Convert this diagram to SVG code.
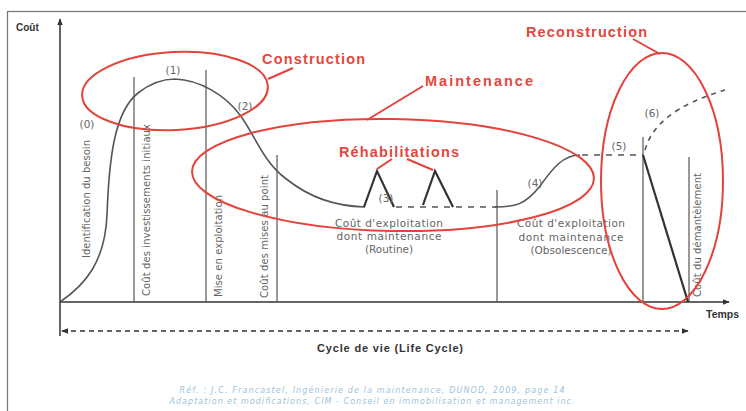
<svg xmlns="http://www.w3.org/2000/svg" width="746" height="411" viewBox="0 0 746 411">
<defs>
<style>
.ax{stroke:#333;stroke-width:1.5;fill:none}
.vl{stroke:#555;stroke-width:1.2;fill:none}
.cv{stroke:#555;stroke-width:1.6;fill:none}
.pk{stroke:#333;stroke-width:2.2;fill:none;stroke-linejoin:miter}
.ds{stroke:#555;stroke-width:1.6;fill:none;stroke-dasharray:6 6}
.red{stroke:#e4423a;stroke-width:2;fill:none}
.rt{font-family:"Liberation Sans",Arial,sans-serif;font-weight:bold;font-size:14.5px;fill:#e4473e}
.lb{font-family:"DejaVu Sans","Liberation Sans",sans-serif;font-size:10px;fill:#666}
.nm{font-family:"DejaVu Sans","Liberation Sans",sans-serif;font-size:10.5px;fill:#666;text-anchor:middle}
.bt{font-family:"Liberation Sans",Arial,sans-serif;font-weight:bold;fill:#333}
.ft{font-family:"DejaVu Sans","Liberation Sans",sans-serif;font-size:8px;fill:#9cc3de;font-style:italic;text-anchor:middle}
</style>
<marker id="ah" viewBox="0 0 10 10" refX="9" refY="5" markerWidth="7" markerHeight="7" orient="auto-start-reverse" markerUnits="userSpaceOnUse">
<path d="M0,1 L10,5 L0,9 z" fill="#333"/>
</marker>
</defs>
<rect width="746" height="411" fill="#fff"/>
<rect x="7.5" y="11.5" width="800" height="500" fill="none" stroke="#777" stroke-width="1.2"/>

<g id="axes">
<line class="ax" x1="60" y1="336" x2="60" y2="19" marker-end="url(#ah)"/>
<line class="ax" x1="60" y1="302" x2="729" y2="302" marker-end="url(#ah)"/>
<text class="bt" x="16" y="31" font-size="10">Coût</text>
<text class="bt" x="706" y="318" font-size="10.5">Temps</text>
</g>

<g id="lifecycle">
<line x1="62" y1="331" x2="688" y2="331" stroke="#333" stroke-width="1.3" stroke-dasharray="5 4" marker-start="url(#ah)" marker-end="url(#ah)"/>
<text class="bt" x="390" y="352" font-size="11" text-anchor="middle" textLength="146">Cycle de vie (Life Cycle)</text>
</g>

<g id="phase-lines">
<line class="vl" x1="134" y1="77" x2="134" y2="302"/>
<line class="vl" x1="206" y1="70" x2="206" y2="302"/>
<line class="vl" x1="277" y1="155" x2="277" y2="302"/>
<line class="vl" x1="497" y1="190" x2="497" y2="302"/>
<line class="vl" x1="643" y1="137" x2="643" y2="302"/>
<line class="vl" x1="689" y1="157" x2="689" y2="302"/>
</g>

<g id="phase-labels">
<text class="lb" transform="translate(90,258) rotate(-90)" textLength="118">Identification du besoin</text>
<text class="lb" transform="translate(150,296) rotate(-90)" textLength="172">Coût des investissements initiaux</text>
<text class="lb" transform="translate(222,297) rotate(-90)" textLength="102">Mise en exploitation</text>
<text class="lb" transform="translate(268,298) rotate(-90)" textLength="123">Coût des mises au point</text>
<text class="lb" transform="translate(701,297) rotate(-90)" textLength="124">Coût du démantèlement</text>
</g>

<g id="cost-curve">
<path class="cv" d="M60,302 C85,285 105,262 107,215 C109,160 114,112 138,93 C152,82 165,79 175,79 C200,80 225,95 240,115 C255,135 262,160 285,178 C310,198 335,206 365,207"/>
<path class="pk" d="M364,207 L377,171 L394,207"/>
<path class="pk" d="M423,205 L435,171 L453,207"/>
<line class="ds" x1="396" y1="207" x2="497" y2="207"/>
<path class="cv" d="M495,207 C515,207 525,205 540,186 C553,168 563,155 580,155"/>
<line class="ds" x1="582" y1="155" x2="643" y2="155"/>
<path class="pk" d="M643,155 L688,302"/>
<path d="M645,150 C652,125 675,105 725,90" fill="none" stroke="#555" stroke-width="1.6" stroke-dasharray="5 5"/>
</g>

<g id="point-labels">
<text class="nm" x="87" y="128">(0)</text>
<text class="nm" x="173" y="74">(1)</text>
<text class="nm" x="245" y="110">(2)</text>
<text class="nm" x="386" y="202">(3)</text>
<text class="nm" x="535" y="187">(4)</text>
<text class="nm" x="619" y="150">(5)</text>
<text class="nm" x="652" y="117">(6)</text>
</g>

<g id="routine">
<text class="nm" x="389" y="227" textLength="108">Coût d'exploitation</text>
<text class="nm" x="389" y="240" textLength="105">dont maintenance</text>
<text class="nm" x="389" y="253">(Routine)</text>
</g>
<g id="obsolescence">
<text class="nm" x="571" y="227" textLength="108">Coût d'exploitation</text>
<text class="nm" x="571" y="241" textLength="105">dont maintenance</text>
<text class="nm" x="571" y="254">(Obsolescence)</text>
</g>

<g id="construction">
<ellipse class="red" cx="175" cy="91" rx="93" ry="39" transform="rotate(-3 175 91)"/>
<line class="red" x1="268" y1="79" x2="293" y2="68"/>
<text class="rt" x="262" y="64" textLength="103">Construction</text>
</g>

<g id="maintenance">
<ellipse class="red" cx="393" cy="175" rx="201" ry="56" transform="rotate(1 393 175)"/>
<line class="red" x1="367" y1="120" x2="423" y2="86"/>
<text class="rt" x="425" y="86" textLength="108">Maintenance</text>
</g>

<g id="rehabilitations">
<line class="red" x1="392" y1="159" x2="377" y2="169"/>
<line class="red" x1="407" y1="159" x2="433" y2="170"/>
<text class="rt" x="339" y="157" textLength="120">Réhabilitations</text>
</g>

<g id="reconstruction">
<ellipse class="red" cx="662" cy="181" rx="61" ry="128"/>
<line class="red" x1="633" y1="39" x2="660" y2="54"/>
<text class="rt" x="526" y="37" textLength="121">Reconstruction</text>
</g>

<g id="footer">
<text class="ft" x="372" y="393" textLength="385">Réf. : J.C. Francastel, Ingénierie de la maintenance, DUNOD, 2009, page 14</text>
<text class="ft" x="372" y="404" textLength="405">Adaptation et modifications, CIM - Conseil en immobilisation et management inc.</text>
</g>
</svg>
